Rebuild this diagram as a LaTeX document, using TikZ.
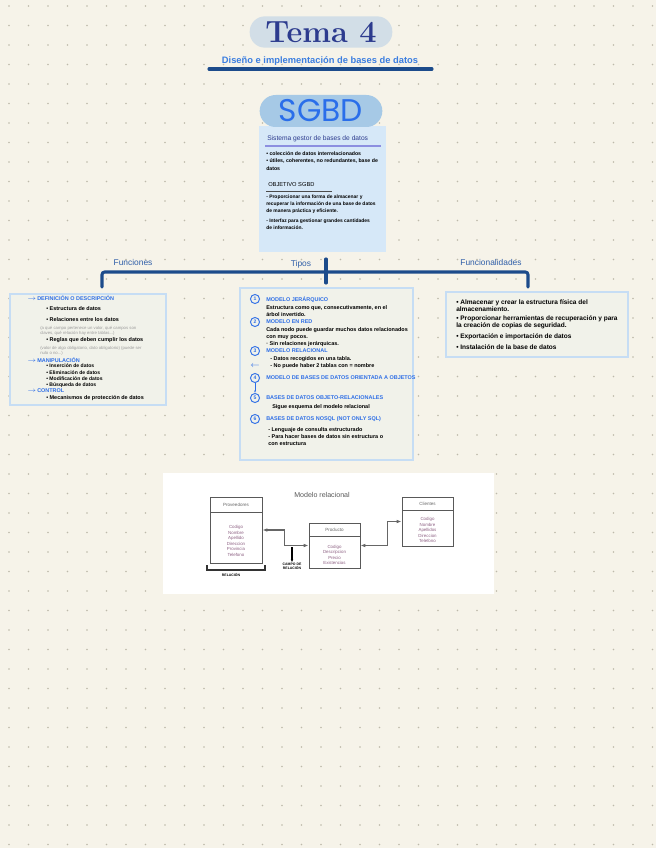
\documentclass[tikz,border=0pt]{standalone}
\usepackage{fontspec}
\setsansfont{Liberation Sans}
\newfontfamily\pillfont{Poppins}
\usepackage{tikz}
\usetikzlibrary{arrows.meta,fit,positioning}
\usepackage{xcolor}
\definecolor{paper}{HTML}{F6F3E9}
\definecolor{dotgray}{HTML}{BDB9AA}
\definecolor{titlefill}{HTML}{D2DEE7}
\definecolor{titletext}{HTML}{2C3B8E}
\definecolor{subblue}{HTML}{3A7DE0}
\definecolor{navy}{HTML}{1C4B8B}
\definecolor{pillfill}{HTML}{A6C9E6}
\definecolor{pillblue}{HTML}{2A6EEA}
\definecolor{sgbdfill}{HTML}{D6E8F8}
\definecolor{boxfill}{HTML}{F1F2EA}
\definecolor{boxline}{HTML}{C6DDF4}
\definecolor{headblue}{HTML}{2F6FE6}
\definecolor{lavender}{HTML}{8C8FE0}
\definecolor{notegray}{HTML}{9C9C9C}
\definecolor{fieldpink}{HTML}{8E6284}
\definecolor{branchtext}{HTML}{2F5EA8}
\newcommand{\notefont}{\sffamily\bfseries\fontsize{4.1}{5.2}\selectfont}
\newcommand{\smallnote}{\sffamily\fontsize{3.2}{4}\selectfont}
\newcommand{\goto}{$\rightarrow$\,}
\tikzset{
  pill/.style={fill=titlefill, rounded corners=11.5pt, minimum width=107pt, minimum height=23.5pt,
    inner sep=0pt},
  infobox/.style={fill=sgbdfill, inner sep=0pt},
  notebox/.style={draw=boxline, line width=0.8pt, fill=boxfill, inner sep=0pt},
  branch/.style={draw=navy, line width=2.3pt, line cap=round, rounded corners=2pt},
  branchlabel/.style={text=branchtext, font=\sffamily\fontsize{6.3}{7}\selectfont, inner sep=0pt},
  note/.style={font=\notefont, align=left, inner sep=0pt, anchor=north west},
  line/.style={font=\notefont, inner sep=0pt, anchor=west},
  greynote/.style={note, font=\smallnote, text=notegray},
  bluehead/.style={text=headblue, font=\notefont, inner sep=0pt, anchor=west},
  numcirc/.style={circle, draw=headblue, line width=0.7pt, text=headblue, minimum size=6.8pt,
    inner sep=0pt, font=\sffamily\bfseries\fontsize{3.8}{4}\selectfont},
  smallarrow/.style={-{Latex[length=1.8pt]}, draw=headblue, line width=0.6pt},
  tablebox/.style={draw=black!65, line width=0.75pt, fill=white, inner sep=0pt},
  tabletitle/.style={text=black!60, font=\sffamily\fontsize{3.4}{4}\selectfont, inner sep=0pt},
  fields/.style={text=fieldpink, align=center, font=\sffamily\fontsize{3.3}{4.1}\selectfont, inner sep=0pt},
  relarrow/.style={{Latex[length=3.6pt]}-{Latex[length=3.6pt]}, draw=black!60, line width=0.9pt},
  tinylabel/.style={font=\sffamily\bfseries\fontsize{2.6}{3}\selectfont, align=center, inner sep=0pt}
}

\begin{document}
\begin{tikzpicture}[x=0.75pt, y=-0.75pt]
  % paper and dot grid
  \fill[paper] (0,0) rectangle (656,848);
  \useasboundingbox (0,0) rectangle (656,848);
  \foreach \i in {0,...,33}
    \foreach \j in {0,...,43}
      \fill[dotgray] ({9+19.5*\i},{6+19.5*\j}) circle (0.7pt);

  % title
  \node[pill, text=titletext, font=\rmfamily\bfseries\fontsize{23}{24}\selectfont] (title) at (321,32) {Tema 4};
  \node[text=subblue, font=\sffamily\bfseries\fontsize{7}{8}\selectfont, inner sep=1pt] (subtitle)
    at (320,61) {Diseño e implementación de bases de datos};
  \draw[navy, line width=2.3pt, line cap=round] (209,69) -- (432,69);

  % SGBD
  \node[infobox, fit={(259,126) (386,252)}] (sgbdbox) {};
  \node[pill, fill=pillfill, minimum width=92pt, minimum height=24pt, rounded corners=12pt,
    text=pillblue, font=\pillfont\fontsize{23.5}{24}\selectfont] (sgbd) at (321,111) {SGBD};
  \node[line, text=titletext, font=\sffamily\fontsize{5}{5.5}\selectfont] (sgbddef) at (267,139)
    {Sistema gestor de bases de datos};
  \draw[lavender, line width=1.3pt] (265,146) -- (381,146);
  \node[note, font=\sffamily\bfseries\fontsize{3.9}{5.8}\selectfont] (sgbdlist) at (266,151)
    {• colección de datos interrelacionados\\
     • útiles, coherentes, no redundantes, base de\\
     datos};
  \node[line, font=\sffamily\fontsize{4.3}{5}\selectfont] (objetivo) at (268,185) {OBJETIVO SGBD};
  \draw[black!70, line width=0.5pt] (266,191) -- (332,191);
  \node[note, font=\sffamily\bfseries\fontsize{3.7}{5.1}\selectfont] (objlist) at (266,195)
    {- Proporcionar una forma de almacenar y\\
     recuperar la información de una base de datos\\
     de manera práctica y eficiente.\\[2.5pt]
     - Interfaz para gestionar grandes cantidades\\
     de información.};

  % branches
  \coordinate (lftend) at (102,287);
  \coordinate (rgtend) at (528,287);
  \coordinate (hub) at (326,272);
  \coordinate (hubtop) at (326,259);
  \coordinate (hubbot) at (326,283);
  \draw[branch] (lftend) |- (hub) -| (rgtend);
  \draw[branch] (hubtop) -- (hubbot);
  \node[branchlabel] (lblfunciones) at (133,262) {Funciones};
  \node[branchlabel] (lbltipos) at (301,264) {Tipos};
  \node[branchlabel] (lblfuncionalidades) at (491,262) {Funcionalidades};

  % Funciones
  \node[notebox, fit={(10,294) (166,405)}] (funciones) {};
  \node[bluehead] (defin) at (27,298) {\goto DEFINICIÓN O DESCRIPCIÓN};
  \node[line] (estruct) at (46,309) {• Estructura de datos};
  \node[line] (relac) at (46,320) {• Relaciones entre los datos};
  \node[greynote] (relacnote) at (40,326)
    {(a qué campo pertenece un valor, qué campos son\\claves, qué relación hay entre tablas...)};
  \node[line] (reglas) at (46,340) {• Reglas que deben cumplir los datos};
  \node[greynote] (reglasnote) at (40,346)
    {(valor de algo obligatorio, dato obligatorio) (puede ser\\nulo o no...)};
  \node[bluehead] (manip) at (27,360) {\goto MANIPULACIÓN};
  \node[note, font=\sffamily\bfseries\fontsize{3.8}{4.6}\selectfont] (maniplist) at (46,364)
    {• Inserción de datos\\• Eliminación de datos\\• Modificación de datos\\• Búsqueda de datos};
  \node[bluehead] (control) at (27,391) {\goto CONTROL};
  \node[line] (proteccion) at (46,398) {• Mecanismos de protección de datos};

  % Tipos
  \node[notebox, fit={(240,288) (413,460)}] (tipos) {};
  \node[numcirc] (n1) at (255,299) {1};
  \node[bluehead] (t1) at (266,300) {MODELO JERÁRQUICO};
  \node[note] (d1) at (266,305) {Estructura como que, consecutivamente, en el\\árbol invertido.};
  \node[numcirc] (n2) at (255,322) {2};
  \node[bluehead] (t2) at (266,322) {MODELO EN RED};
  \node[note] (d2) at (266,327)
    {Cada nodo puede guardar muchos datos relacionados\\con muy pocos.\\· Sin relaciones jerárquicas.};
  \node[numcirc] (n3) at (255,351) {3};
  \node[bluehead] (t3) at (266,351) {MODELO RELACIONAL};
  \node[text=headblue, font=\fontsize{6}{6}\selectfont, inner sep=0pt] (back3) at (255,366) {$\leftarrow$};
  \node[note] (d3) at (270,356) {- Datos recogidos en una tabla.\\- No puede haber 2 tablas con = nombre};
  \node[numcirc] (n4) at (255,378) {4};
  \node[bluehead] (t4) at (266,378) {MODELO DE BASES DE DATOS ORIENTADA A OBJETOS};
  \node[numcirc] (n5) at (255,398) {5};
  \draw[smallarrow] (n4) -- (n5);
  \node[bluehead] (t5) at (266,398) {BASES DE DATOS OBJETO-RELACIONALES};
  \node[note] (d5) at (272,404) {Sigue esquema del modelo relacional};
  \node[numcirc] (n6) at (255,419) {6};
  \node[bluehead] (t6) at (266,419) {BASES DE DATOS NOSQL (NOT ONLY SQL)};
  \node[note] (d6) at (268,427)
    {- Lenguaje de consulta estructurado\\- Para hacer bases de datos sin estructura o\\con estructura};

  % Funcionalidades
  \node[notebox, fit={(446,292) (628,357)}] (funcionalidades) {};
  \node[note, font=\sffamily\bfseries\fontsize{4.9}{5.8}\selectfont] (fn1) at (456,299)
    {• Almacenar y crear la estructura física del\\almacenamiento.};
  \node[note, font=\sffamily\bfseries\fontsize{4.9}{5.8}\selectfont] (fn2) at (456,315)
    {• Proporcionar herramientas de recuperación y para\\la creación de copias de seguridad.};
  \node[note, font=\sffamily\bfseries\fontsize{4.9}{5.8}\selectfont] (fn3) at (456,333)
    {• Exportación e importación de datos};
  \node[note, font=\sffamily\bfseries\fontsize{4.9}{5.8}\selectfont] (fn4) at (456,344)
    {• Instalación de la base de datos};

  % Modelo relacional
  \node[fill=white, inner sep=0pt, fit={(163,473) (494,594)}] (diagram) {};
  \node[text=black!65, font=\sffamily\fontsize{5.3}{6}\selectfont, inner sep=0pt] (modelo) at (322,495)
    {Modelo relacional};
  \node[tablebox, fit={(210,497) (262,563)}] (prov) {};
  \draw[black!65, line width=0.75pt] (210,512) -- (262,512);
  \node[tabletitle] (provtitle) at (236,504.5) {Proveedores};
  \node[fields] (provfields) at (236,541) {Codigo\\Nombre\\Apellido\\Direccion\\Provincia\\Telefono};
  \node[tablebox, fit={(309,523) (360,568)}] (prod) {};
  \draw[black!65, line width=0.75pt] (309,536) -- (360,536);
  \node[tabletitle] (prodtitle) at (334.5,529.5) {Producto};
  \node[fields] (prodfields) at (334.5,555) {Codigo\\Descripcion\\Precio\\Existencias};
  \node[tablebox, fit={(402,497) (453,546)}] (cli) {};
  \draw[black!65, line width=0.75pt] (402,510) -- (453,510);
  \node[tabletitle] (clititle) at (427.5,503.5) {Clientes};
  \node[fields] (clifields) at (427.5,530) {Codigo\\Nombre\\Apellidos\\Direccion\\Telefono};
  \draw[relarrow] (prov.east) -- ++(22,0) |- (prod.west);
  \draw[relarrow] (prod.east) -- ++(27,0) |- (cli.west);
  \coordinate (campotop) at (292,547);
  \node[tinylabel] (camporel) at (292,566) {CAMPO DE\\RELACIÓN};
  \draw[-{Latex[length=2.5pt]}, line width=0.8pt] (campotop) -- (camporel);
  \draw[black!80, line width=0.8pt] (207,565) -- (207,570) -- (265,570) -- (265,565);
  \node[tinylabel] (relacion) at (231,575) {RELACIÓN};
\end{tikzpicture}
\end{document}
